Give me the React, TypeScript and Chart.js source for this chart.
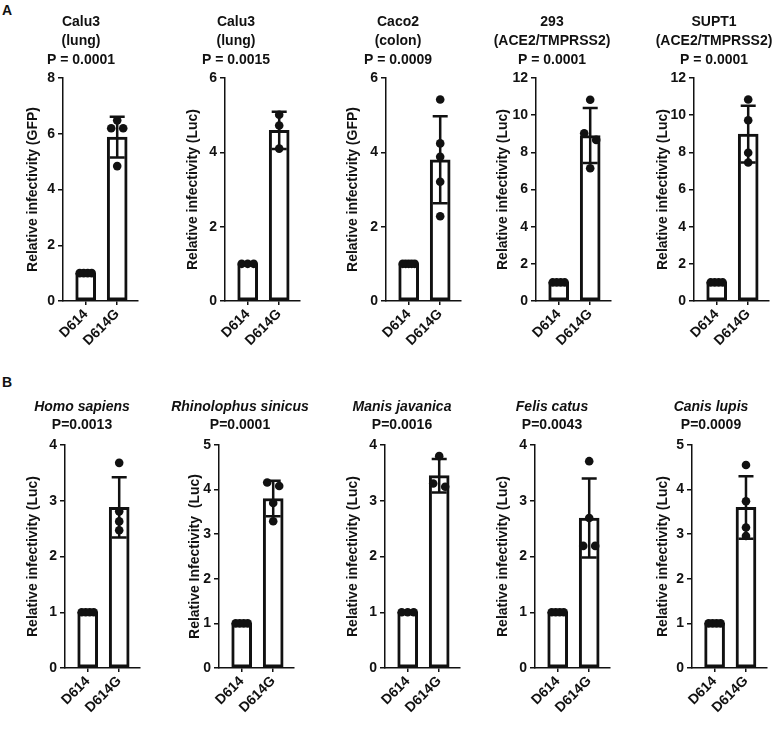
import React, { useEffect, useRef } from 'react';
import { Chart, registerables } from 'chart.js';

Chart.register(...registerables);

const FONT = "'Liberation Sans', Arial, Helvetica, sans-serif";
const INK = '#111111';

const groups = ['D614', 'D614G'];

// ---------- Panel A ----------
const calu3GfpTitle = ['Calu3', '(lung)'];
const calu3GfpP = 'P = 0.0001';
const calu3GfpYLabel = 'Relative infectivity (GFP)';
const calu3GfpTicks = [0, 2, 4, 6, 8];
const calu3GfpMeans = [1, 5.88];
const calu3GfpSD = [0, 0.73];
const calu3GfpD614 = [1, 1, 1, 1];
const calu3GfpD614G = [6.48, 6.2, 6.2, 4.84];

const calu3LucTitle = ['Calu3', '(lung)'];
const calu3LucP = 'P = 0.0015';
const calu3LucYLabel = 'Relative infectivity (Luc)';
const calu3LucTicks = [0, 2, 4, 6];
const calu3LucMeans = [1, 4.59];
const calu3LucSD = [0, 0.5];
const calu3LucD614 = [1, 1, 1];
const calu3LucD614G = [5.01, 4.72, 4.1];

const caco2Title = ['Caco2', '(colon)'];
const caco2P = 'P = 0.0009';
const caco2YLabel = 'Relative infectivity (GFP)';
const caco2Ticks = [0, 2, 4, 6];
const caco2Means = [1, 3.8];
const caco2SD = [0, 1.17];
const caco2D614 = [1, 1, 1, 1, 1];
const caco2D614G = [5.42, 4.24, 3.88, 3.21, 2.28];

const h293Title = ['293', '(ACE2/TMPRSS2)'];
const h293P = 'P = 0.0001';
const h293YLabel = 'Relative infectivity (Luc)';
const h293Ticks = [0, 2, 4, 6, 8, 10, 12];
const h293Means = [1, 8.9];
const h293SD = [0, 1.48];
const h293D614 = [1, 1, 1, 1];
const h293D614G = [10.83, 9.03, 8.67, 7.14];

const supt1Title = ['SUPT1', '(ACE2/TMPRSS2)'];
const supt1P = 'P = 0.0001';
const supt1YLabel = 'Relative infectivity (Luc)';
const supt1Ticks = [0, 2, 4, 6, 8, 10, 12];
const supt1Means = [1, 8.98];
const supt1SD = [0, 1.53];
const supt1D614 = [1, 1, 1, 1];
const supt1D614G = [10.84, 9.73, 7.98, 7.45];

// ---------- Panel B ----------
const homoTitle = ['Homo sapiens'];
const homoP = 'P=0.0013';
const homoYLabel = 'Relative infectivity (Luc)';
const homoTicks = [0, 1, 2, 3, 4];
const homoMeans = [1, 2.88];
const homoSD = [0, 0.54];
const homoD614 = [1, 1, 1, 1];
const homoD614G = [3.68, 2.81, 2.63, 2.47];

const rhinoTitle = ['Rhinolophus sinicus'];
const rhinoP = 'P=0.0001';
const rhinoYLabel = 'Relative Infectivity  (Luc)';
const rhinoTicks = [0, 1, 2, 3, 4, 5];
const rhinoMeans = [1, 3.8];
const rhinoSD = [0, 0.4];
const rhinoD614 = [1, 1, 1, 1];
const rhinoD614G = [4.16, 4.08, 3.7, 3.29];

const manisTitle = ['Manis javanica'];
const manisP = 'P=0.0016';
const manisYLabel = 'Relative infectivity (Luc)';
const manisTicks = [0, 1, 2, 3, 4];
const manisMeans = [1, 3.45];
const manisSD = [0, 0.3];
const manisD614 = [1, 1, 1];
const manisD614G = [3.8, 3.31, 3.25];

const felisTitle = ['Felis catus'];
const felisP = 'P=0.0043';
const felisYLabel = 'Relative infectivity (Luc)';
const felisTicks = [0, 1, 2, 3, 4];
const felisMeans = [1, 2.69];
const felisSD = [0, 0.71];
const felisD614 = [1, 1, 1, 1];
const felisD614G = [3.71, 2.69, 2.19, 2.19];

const canisTitle = ['Canis lupis'];
const canisP = 'P=0.0009';
const canisYLabel = 'Relative infectivity (Luc)';
const canisTicks = [0, 1, 2, 3, 4, 5];
const canisMeans = [1, 3.6];
const canisSD = [0, 0.7];
const canisD614 = [1, 1, 1, 1];
const canisD614G = [4.55, 3.74, 3.15, 2.96];

// ---------- layout (positions only) ----------
type Row = { top: number; height: number; chartTop: number; chartBottom: number; lh: number; padTop: number; italic: boolean };
const rowA: Row = { top: 0, height: 352, chartTop: 78, chartBottom: 301, lh: 1.35, padTop: 12.5, italic: false };
const rowB: Row = { top: 380, height: 340, chartTop: 445, chartBottom: 668, lh: 1.3, padTop: 18, italic: true };

const PLOT_W = 75;
const X_MIN = -0.72;
const X_MAX = 1.66;

type PanelData = { title: string[]; p: string; ylabel: string; ticks: number[]; means: number[]; sd: number[]; pts: number[][] };
type PanelLayout = { ax: number; tc: number; labelX: number; w: number };

const panelsA: PanelData[] = [
  { title: calu3GfpTitle, p: calu3GfpP, ylabel: calu3GfpYLabel, ticks: calu3GfpTicks, means: calu3GfpMeans, sd: calu3GfpSD, pts: [calu3GfpD614, calu3GfpD614G] },
  { title: calu3LucTitle, p: calu3LucP, ylabel: calu3LucYLabel, ticks: calu3LucTicks, means: calu3LucMeans, sd: calu3LucSD, pts: [calu3LucD614, calu3LucD614G] },
  { title: caco2Title, p: caco2P, ylabel: caco2YLabel, ticks: caco2Ticks, means: caco2Means, sd: caco2SD, pts: [caco2D614, caco2D614G] },
  { title: h293Title, p: h293P, ylabel: h293YLabel, ticks: h293Ticks, means: h293Means, sd: h293SD, pts: [h293D614, h293D614G] },
  { title: supt1Title, p: supt1P, ylabel: supt1YLabel, ticks: supt1Ticks, means: supt1Means, sd: supt1SD, pts: [supt1D614, supt1D614G] },
];
const panelsB: PanelData[] = [
  { title: homoTitle, p: homoP, ylabel: homoYLabel, ticks: homoTicks, means: homoMeans, sd: homoSD, pts: [homoD614, homoD614G] },
  { title: rhinoTitle, p: rhinoP, ylabel: rhinoYLabel, ticks: rhinoTicks, means: rhinoMeans, sd: rhinoSD, pts: [rhinoD614, rhinoD614G] },
  { title: manisTitle, p: manisP, ylabel: manisYLabel, ticks: manisTicks, means: manisMeans, sd: manisSD, pts: [manisD614, manisD614G] },
  { title: felisTitle, p: felisP, ylabel: felisYLabel, ticks: felisTicks, means: felisMeans, sd: felisSD, pts: [felisD614, felisD614G] },
  { title: canisTitle, p: canisP, ylabel: canisYLabel, ticks: canisTicks, means: canisMeans, sd: canisSD, pts: [canisD614, canisD614G] },
];

const layoutA: PanelLayout[] = [
  { ax: 63, tc: 81, labelX: 33, w: 150 },
  { ax: 225, tc: 236, labelX: 193, w: 150 },
  { ax: 386, tc: 398, labelX: 353, w: 150 },
  { ax: 536, tc: 552, labelX: 503, w: 150 },
  { ax: 694, tc: 714, labelX: 663, w: 120 },
];
const layoutB: PanelLayout[] = [
  { ax: 65, tc: 82, labelX: 33, w: 150 },
  { ax: 219, tc: 240, labelX: 195, w: 150 },
  { ax: 385, tc: 402, labelX: 353, w: 150 },
  { ax: 535, tc: 552, labelX: 503, w: 150 },
  { ax: 692, tc: 711, labelX: 663, w: 120 },
];

// simple beeswarm: returns horizontal offsets in pixels
function swarm(values: number[], pxPerUnit: number): number[] {
  const D = 8;
  const idx = values.map((_, i) => i).sort((a, b) => values[b] - values[a]);
  const offsets = new Array(values.length).fill(0);
  let cluster: number[] = [];
  const flush = () => {
    const n = cluster.length;
    if (n > 1) {
      const s = Math.min(13, 12 / (n - 1));
      cluster.forEach((k, j) => {
        let pos: number;
        if (n % 2 === 0) pos = (j - (n - 1) / 2) * s;
        else {
          const m = Math.ceil(j / 2);
          pos = j === 0 ? 0 : (j % 2 === 1 ? -m : m) * s;
        }
        offsets[k] = pos;
      });
    }
    cluster = [];
  };
  idx.forEach((k) => {
    if (cluster.length && (values[cluster[cluster.length - 1]] - values[k]) * pxPerUnit >= D) flush();
    cluster.push(k);
  });
  flush();
  return offsets;
}

function errorBars(means: number[], sds: number[]) {
  return {
    id: 'errorBars',
    afterDatasetsDraw(chart: any) {
      const { ctx } = chart;
      const x = chart.scales.x;
      const y = chart.scales.y;
      ctx.save();
      ctx.strokeStyle = INK;
      ctx.lineWidth = 2.5;
      means.forEach((m, i) => {
        if (!sds[i]) return;
        const cx = x.getPixelForValue(i);
        const top = y.getPixelForValue(m + sds[i]);
        const bot = y.getPixelForValue(m - sds[i]);
        ctx.beginPath();
        ctx.moveTo(cx, top);
        ctx.lineTo(cx, bot);
        ctx.moveTo(cx - 7.5, top);
        ctx.lineTo(cx + 7.5, top);
        ctx.moveTo(cx - 7.5, bot);
        ctx.lineTo(cx + 7.5, bot);
        ctx.stroke();
      });
      ctx.restore();
    },
  };
}

function Panel({ d, l, row }: { d: PanelData; l: PanelLayout; row: Row }) {
  const ref = useRef<HTMLCanvasElement>(null);
  const left = l.tc - l.w / 2;
  const right = l.ax + PLOT_W;
  const yW = l.ax - left;
  const yRW = Math.max(0, left + l.w - right);
  const fs = 14;
  const titleH = row.padTop + d.title.length * fs * row.lh;
  const subBottom = row.chartTop - row.top - titleH - fs * row.lh;
  const xH = row.height - (row.chartBottom - row.top);

  useEffect(() => {
    const yMax = d.ticks[d.ticks.length - 1];
    const pxPerUnit = (row.chartBottom - row.chartTop) / yMax;
    const pxPerX = PLOT_W / (X_MAX - X_MIN);
    const pts: { x: number; y: number }[] = [];
    d.pts.forEach((vals, gi) => {
      const offs = swarm(vals, pxPerUnit);
      vals.forEach((v, k) => pts.push({ x: gi + offs[k] / pxPerX, y: v }));
    });
    const tickFont = { family: FONT, size: fs, weight: 'bold' as const };
    const chart = new Chart(ref.current!, {
      type: 'bar',
      data: {
        datasets: [
          {
            type: 'scatter',
            data: pts,
            pointRadius: 4.3,
            pointHoverRadius: 4.3,
            pointBackgroundColor: INK,
            pointBorderWidth: 0,
            order: 1,
          } as any,
          {
            type: 'bar',
            data: d.means.map((m, i) => ({ x: i, y: m })),
            backgroundColor: '#ffffff',
            borderColor: INK,
            borderWidth: 3,
            borderSkipped: false,
            barThickness: 20,
            order: 2,
          } as any,
        ],
      },
      options: {
        responsive: false,
        animation: false,
        events: [],
        layout: { padding: 0 },
        plugins: {
          legend: { display: false },
          tooltip: { enabled: false },
          title: {
            display: true,
            text: d.title,
            color: INK,
            font: { family: FONT, size: fs, weight: 'bold', style: row.italic ? 'italic' : 'normal', lineHeight: row.lh },
            padding: { top: row.padTop, bottom: 0 },
          },
          subtitle: {
            display: true,
            text: d.p,
            color: INK,
            font: { family: FONT, size: fs, weight: 'bold', lineHeight: row.lh },
            padding: { top: 0, bottom: subBottom },
          },
        },
        scales: {
          x: {
            type: 'linear',
            min: X_MIN,
            max: X_MAX,
            offset: false,
            afterBuildTicks: (s: any) => {
              s.ticks = groups.map((_, i) => ({ value: i }));
            },
            afterFit: (s: any) => {
              s.height = xH;
            },
            ticks: {
              callback: (v: any) => groups[Math.round(Number(v))],
              minRotation: 45,
              maxRotation: 45,
              autoSkip: false,
              color: INK,
              font: tickFont,
              padding: 1,
            },
            grid: { display: true, offset: false, drawOnChartArea: false, drawTicks: true, tickLength: 4, color: INK, lineWidth: 1.5 },
            border: { display: true, color: INK, width: 1.5 },
          },
          y: {
            type: 'linear',
            position: 'left',
            min: d.ticks[0],
            max: yMax,
            afterBuildTicks: (s: any) => {
              s.ticks = d.ticks.map((v) => ({ value: v }));
            },
            afterFit: (s: any) => {
              s.width = yW;
            },
            ticks: { color: INK, font: tickFont, padding: 3 },
            grid: { display: true, drawOnChartArea: false, drawTicks: true, tickLength: 5, color: INK, lineWidth: 1.5 },
            border: { display: true, color: INK, width: 1.5 },
            title: {
              display: true,
              text: d.ylabel,
              color: INK,
              font: { family: FONT, size: fs, weight: 'bold' },
              padding: { top: Math.max(0, l.labelX - left - fs * 0.6), bottom: 0 },
            },
          },
          yR: {
            type: 'linear',
            position: 'right',
            display: true,
            ticks: { display: false },
            grid: { display: false },
            border: { display: false },
            afterFit: (s: any) => {
              s.width = yRW;
            },
          },
        },
      } as any,
      plugins: [errorBars(d.means, d.sd)],
    });
    return () => chart.destroy();
  }, []);

  return (
    <canvas
      ref={ref}
      width={l.w}
      height={row.height}
      style={{ position: 'absolute', left, top: row.top, width: l.w, height: row.height }}
    />
  );
}

const letterStyle = (top: number): React.CSSProperties => ({
  position: 'absolute',
  left: 2,
  top,
  fontFamily: FONT,
  fontWeight: 'bold',
  fontSize: 14,
  lineHeight: '16px',
  color: INK,
});

export default function App() {
  return (
    <div style={{ position: 'absolute', left: 0, top: 0, width: 774, height: 745, overflow: 'hidden', background: '#fff' }}>
      <div style={letterStyle(2)}>A</div>
      <div style={letterStyle(374)}>B</div>
      {panelsA.map((d, i) => (
        <Panel key={'a' + i} d={d} l={layoutA[i]} row={rowA} />
      ))}
      {panelsB.map((d, i) => (
        <Panel key={'b' + i} d={d} l={layoutB[i]} row={rowB} />
      ))}
    </div>
  );
}
